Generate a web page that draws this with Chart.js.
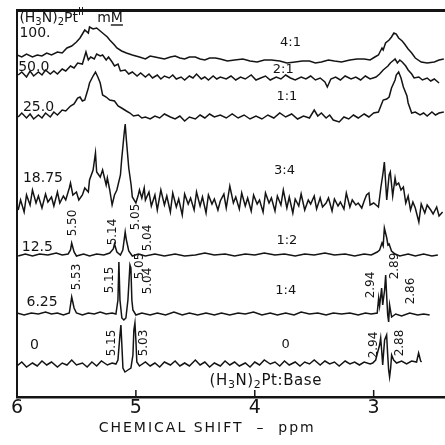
<!DOCTYPE html>
<html>
<head>
<meta charset="utf-8">
<script src="https://cdn.jsdelivr.net/npm/chart.js@4.4.1/dist/chart.umd.min.js"></script>
<style>
  html, body { margin: 0; padding: 0; background: #fff; }
  #wrap { width: 445px; height: 445px; }
</style>
</head>
<body>
<div id="wrap"><canvas id="nmr" width="445" height="445"></canvas></div>
<script>
// stacked 1H spectra, [ppm, signal]
const sig100 = [[6.00,342],[5.96,340],[5.92,343],[5.87,340],[5.83,342],[5.79,341],[5.75,344],[5.71,342],[5.66,345],[5.62,344],[5.58,349],[5.54,351],[5.50,355],[5.47,359],[5.45,363],[5.43,367],[5.40,364],[5.39,370],[5.36,368],[5.33,369],[5.30,366],[5.28,364],[5.24,360],[5.22,357],[5.18,352],[5.16,349],[5.12,346],[5.08,344],[5.03,342],[4.97,340],[4.92,338],[4.88,341],[4.84,340],[4.80,339],[4.76,338],[4.71,340],[4.67,341],[4.63,339],[4.59,338],[4.55,340],[4.50,340],[4.46,338],[4.42,337],[4.38,339],[4.33,339],[4.29,338],[4.23,336],[4.17,337],[4.10,338],[4.04,336],[3.98,335],[3.92,337],[3.86,337],[3.79,336],[3.73,334],[3.66,335],[3.60,336],[3.54,336],[3.49,334],[3.44,335],[3.38,337],[3.33,336],[3.27,335],[3.20,337],[3.14,338],[3.08,338],[3.03,337],[2.99,340],[2.96,342],[2.93,349],[2.92,347],[2.90,354],[2.87,357],[2.85,360],[2.83,364],[2.81,363],[2.79,359],[2.76,356],[2.74,353],[2.71,348],[2.68,344],[2.65,339],[2.60,335],[2.55,334],[2.49,335],[2.45,337],[2.41,338]];

const sig50 = [[5.99,322],[5.96,325],[5.92,320],[5.89,326],[5.86,321],[5.82,325],[5.79,322],[5.76,327],[5.72,323],[5.69,326],[5.66,323],[5.62,328],[5.59,326],[5.55,331],[5.52,329],[5.49,334],[5.45,333],[5.42,345],[5.40,337],[5.38,340],[5.35,338],[5.33,343],[5.30,341],[5.28,342],[5.25,337],[5.23,340],[5.20,335],[5.18,331],[5.15,333],[5.13,326],[5.09,327],[5.06,323],[5.03,325],[4.99,321],[4.96,324],[4.92,320],[4.89,323],[4.86,319],[4.82,322],[4.79,318],[4.76,321],[4.72,319],[4.69,322],[4.66,318],[4.62,320],[4.59,317],[4.55,321],[4.52,319],[4.49,323],[4.45,318],[4.42,320],[4.39,317],[4.35,321],[4.32,318],[4.29,320],[4.24,318],[4.20,321],[4.16,317],[4.12,320],[4.08,318],[4.03,322],[3.99,317],[3.95,319],[3.91,321],[3.87,317],[3.82,320],[3.78,318],[3.74,322],[3.70,319],[3.66,317],[3.61,320],[3.57,318],[3.53,321],[3.49,317],[3.45,319],[3.41,315],[3.39,310],[3.36,318],[3.32,320],[3.28,317],[3.24,321],[3.19,318],[3.15,320],[3.11,317],[3.07,321],[3.03,318],[2.98,320],[2.95,323],[2.92,327],[2.88,331],[2.86,334],[2.83,337],[2.82,338],[2.80,334],[2.78,337],[2.76,335],[2.73,331],[2.71,327],[2.68,323],[2.66,319],[2.62,320],[2.59,317],[2.55,319],[2.52,316],[2.49,318],[2.45,314]];

const sig25 = [[5.99,280],[5.96,284],[5.92,279],[5.89,283],[5.86,278],[5.82,282],[5.79,279],[5.76,284],[5.72,280],[5.69,285],[5.66,282],[5.62,287],[5.59,286],[5.55,291],[5.52,293],[5.49,299],[5.47,300],[5.45,296],[5.43,297],[5.40,309],[5.39,314],[5.36,321],[5.34,325],[5.32,320],[5.30,314],[5.28,302],[5.25,300],[5.22,297],[5.18,296],[5.15,291],[5.12,289],[5.08,286],[5.05,284],[5.02,281],[4.98,282],[4.95,279],[4.92,280],[4.88,278],[4.84,281],[4.80,279],[4.76,283],[4.71,280],[4.67,278],[4.63,281],[4.59,276],[4.55,280],[4.50,278],[4.46,282],[4.42,279],[4.38,283],[4.34,280],[4.29,282],[4.24,279],[4.19,283],[4.14,279],[4.09,282],[4.04,278],[3.99,281],[3.94,278],[3.89,282],[3.84,279],[3.79,284],[3.74,280],[3.69,283],[3.64,278],[3.59,281],[3.54,279],[3.50,287],[3.47,281],[3.44,284],[3.40,279],[3.37,282],[3.34,277],[3.29,275],[3.25,280],[3.21,278],[3.17,282],[3.13,279],[3.08,283],[3.04,280],[3.00,284],[2.96,285],[2.93,294],[2.92,297],[2.89,298],[2.87,300],[2.85,309],[2.82,317],[2.81,322],[2.79,325],[2.77,319],[2.75,310],[2.72,301],[2.71,294],[2.68,284],[2.65,285],[2.61,282],[2.58,284],[2.55,281],[2.51,285],[2.48,282],[2.45,284],[2.41,285]];

const sig1875 = [[5.99,187],[5.97,197],[5.94,185],[5.92,202],[5.89,192],[5.87,207],[5.84,194],[5.82,201],[5.79,189],[5.76,203],[5.74,195],[5.71,200],[5.69,191],[5.66,205],[5.64,194],[5.61,201],[5.59,197],[5.56,209],[5.55,214],[5.53,202],[5.50,205],[5.48,197],[5.45,202],[5.43,209],[5.40,205],[5.39,217],[5.36,227],[5.34,244],[5.33,225],[5.30,220],[5.28,227],[5.25,212],[5.24,219],[5.22,207],[5.20,192],[5.18,202],[5.16,207],[5.13,222],[5.12,237],[5.10,262],[5.09,273],[5.08,257],[5.06,229],[5.04,212],[5.03,200],[5.00,194],[4.98,202],[4.97,207],[4.95,199],[4.93,209],[4.92,197],[4.89,205],[4.87,191],[4.84,202],[4.82,187],[4.79,207],[4.76,192],[4.74,201],[4.71,185],[4.69,204],[4.66,190],[4.64,198],[4.61,182],[4.59,203],[4.56,193],[4.54,199],[4.51,187],[4.49,205],[4.46,191],[4.44,200],[4.41,184],[4.39,202],[4.36,193],[4.34,198],[4.31,187],[4.29,196],[4.26,203],[4.24,189],[4.21,211],[4.18,194],[4.16,200],[4.13,188],[4.11,204],[4.08,191],[4.06,199],[4.03,186],[4.01,202],[3.98,193],[3.96,197],[3.93,185],[3.91,204],[3.88,194],[3.86,199],[3.83,186],[3.81,201],[3.78,192],[3.76,207],[3.73,189],[3.71,200],[3.68,184],[3.66,198],[3.63,191],[3.61,203],[3.58,187],[3.55,197],[3.53,193],[3.50,201],[3.48,188],[3.45,199],[3.43,190],[3.40,194],[3.38,199],[3.35,186],[3.33,198],[3.30,191],[3.28,195],[3.25,188],[3.23,204],[3.20,190],[3.18,197],[3.15,192],[3.13,194],[3.10,189],[3.08,196],[3.06,202],[3.04,204],[3.03,192],[3.00,194],[2.97,191],[2.96,190],[2.94,209],[2.92,225],[2.91,235],[2.89,197],[2.87,222],[2.86,225],[2.84,201],[2.82,219],[2.81,212],[2.79,214],[2.77,207],[2.75,210],[2.73,194],[2.71,201],[2.69,187],[2.67,195],[2.65,189],[2.62,175],[2.60,193],[2.57,184],[2.55,192],[2.52,187],[2.50,183],[2.47,190],[2.45,181],[2.42,185]];

const sig125 = [[5.99,141],[5.93,143],[5.87,141],[5.81,143],[5.74,142],[5.67,144],[5.62,142],[5.57,143],[5.55,147],[5.54,154],[5.52,145],[5.50,141],[5.44,143],[5.39,141],[5.33,143],[5.27,142],[5.22,144],[5.19,148],[5.18,153],[5.16,145],[5.13,142],[5.11,147],[5.09,165],[5.08,157],[5.06,146],[5.03,141],[4.98,143],[4.92,141],[4.84,143],[4.76,141],[4.67,143],[4.59,141],[4.50,142],[4.42,144],[4.34,142],[4.25,143],[4.17,141],[4.08,143],[4.00,142],[3.92,144],[3.83,142],[3.75,143],[3.66,141],[3.58,143],[3.50,142],[3.41,144],[3.33,142],[3.24,143],[3.16,141],[3.08,143],[3.02,142],[2.97,145],[2.95,147],[2.93,154],[2.92,151],[2.91,169],[2.89,159],[2.88,152],[2.87,153],[2.85,146],[2.82,143],[2.78,141],[2.71,143],[2.65,141],[2.58,143],[2.51,141],[2.46,142]];

const sig625 = [[6.00,84],[5.94,82],[5.88,84],[5.82,83],[5.76,85],[5.71,83],[5.66,84],[5.61,82],[5.56,84],[5.55,92],[5.54,100],[5.52,89],[5.50,84],[5.45,82],[5.40,84],[5.35,83],[5.30,85],[5.25,83],[5.20,84],[5.168,83],[5.151,97],[5.143,135],[5.134,97],[5.118,79],[5.101,77],[5.084,79],[5.067,97],[5.050,132],[5.042,129],[5.034,97],[5.025,87],[5.00,82],[4.95,84],[4.88,82],[4.82,84],[4.75,82],[4.68,85],[4.61,82],[4.55,84],[4.48,82],[4.41,84],[4.34,82],[4.28,84],[4.21,82],[4.14,84],[4.08,83],[4.01,85],[3.94,82],[3.87,84],[3.81,82],[3.74,84],[3.67,82],[3.61,85],[3.54,83],[3.47,84],[3.40,82],[3.34,84],[3.27,83],[3.20,84],[3.13,82],[3.07,84],[3.02,83],[2.97,84],[2.958,99],[2.950,91],[2.933,109],[2.924,92],[2.908,107],[2.899,122],[2.891,102],[2.882,82],[2.874,75],[2.866,92],[2.849,80],[2.815,83],[2.765,81],[2.697,84],[2.630,82],[2.580,83],[2.529,82]];

const sig0 = [[6.00,31],[5.96,35],[5.92,30],[5.87,34],[5.83,31],[5.79,36],[5.75,32],[5.71,35],[5.66,30],[5.62,34],[5.58,32],[5.54,37],[5.50,32],[5.45,34],[5.41,30],[5.37,35],[5.33,31],[5.29,36],[5.24,32],[5.20,34],[5.168,33],[5.151,37],[5.134,62],[5.126,72],[5.118,52],[5.109,29],[5.092,25],[5.067,27],[5.042,29],[5.025,42],[5.017,67],[5.008,74],[5.000,57],[4.992,35],[4.97,31],[4.92,35],[4.88,31],[4.84,34],[4.80,30],[4.76,35],[4.71,32],[4.67,36],[4.63,31],[4.59,34],[4.55,31],[4.50,37],[4.46,32],[4.42,35],[4.38,30],[4.34,34],[4.29,31],[4.25,36],[4.21,32],[4.17,35],[4.13,31],[4.08,34],[4.04,30],[4.00,35],[3.96,32],[3.92,37],[3.87,33],[3.83,35],[3.79,31],[3.75,36],[3.71,32],[3.66,35],[3.62,31],[3.58,35],[3.54,33],[3.50,37],[3.45,32],[3.41,36],[3.37,33],[3.33,35],[3.29,31],[3.24,36],[3.20,33],[3.16,35],[3.12,32],[3.08,35],[3.03,33],[3.008,34],[2.983,37],[2.966,45],[2.950,52],[2.941,59],[2.933,47],[2.924,32],[2.916,45],[2.908,57],[2.891,62],[2.882,42],[2.874,27],[2.866,20],[2.857,29],[2.849,42],[2.832,37],[2.807,34],[2.765,36],[2.723,33],[2.681,36],[2.639,35],[2.622,44],[2.605,36],[2.597,35]];

const traces = [sig100, sig50, sig25, sig1875, sig125, sig625, sig0];
const concLabels = ["100.", "50.0", "25.0", "18.75", "12.5", "6.25", "0"];
const ratioLabels = ["4:1", "2:1", "1:1", "3:4", "1:2", "1:4", "0"];
const peakLabels = ["5.50", "5.14", "5.05", "5.04", "5.53", "5.15", "5.05", "5.04", "5.15", "5.03",
                    "2.94", "2.89", "2.86", "2.94", "2.88"];
const xTicks = [6, 5, 4, 3];
const xTitle = "CHEMICAL SHIFT  –  ppm";

// where the texts sit, in [ppm, signal]
const concAt = [[5.98,364],[5.99,330],[5.95,290],[5.95,219],[5.96,150],[5.92,95],[5.89,52]];
const ratioAt = [[3.70,354],[3.76,327],[3.73,300],[3.75,226],[3.73,156],[3.74,106],[3.74,52]];
const peakAt = [[5.53,174],[5.19,165],[5.00,180],[4.90,159],[5.50,120],[5.22,117],[4.97,131],[4.90,116],
                [5.20,54],[4.93,54],[3.02,112],[2.82,131],[2.69,106],[3.00,52],[2.78,54]];

const FONT = '"DejaVu Sans", sans-serif';
const INK = "#141414";

function drawRich(ctx, segs, x, y, size) {
  ctx.textAlign = "left";
  segs.forEach(([t, kind]) => {
    const small = kind === "sub" || kind === "sup";
    const s = small ? Math.round(size * 0.72) : size;
    const dy = kind === "sub" ? size * 0.3 : kind === "sup" ? -size * 0.38 : 0;
    ctx.font = s + "px " + FONT;
    ctx.fillText(t, x, y + dy);
    const w = ctx.measureText(t).width;
    if (kind === "u") ctx.fillRect(x, y + size * 0.45, w, 1.4);
    x += w;
  });
}

const labelPlugin = {
  id: "nmrLabels",
  afterDatasetsDraw(chart) {
    const ctx = chart.ctx;
    const px = (p) => chart.scales.x.getPixelForValue(p);
    const py = (v) => chart.scales.y.getPixelForValue(v);
    ctx.save();
    ctx.fillStyle = INK;
    ctx.strokeStyle = INK;

    // short inward tick marks on the ppm axis
    ctx.lineWidth = 1.5;
    xTicks.slice(1).forEach((v) => {
      ctx.beginPath();
      ctx.moveTo(px(v), py(0));
      ctx.lineTo(px(v), py(7));
      ctx.stroke();
    });

    ctx.textBaseline = "middle";
    ctx.font = "14px " + FONT;
    ctx.textAlign = "left";
    concLabels.forEach((t, i) => ctx.fillText(t, px(concAt[i][0]), py(concAt[i][1])));

    ctx.font = "13px " + FONT;
    ctx.textAlign = "center";
    ratioLabels.forEach((t, i) => ctx.fillText(t, px(ratioAt[i][0]), py(ratioAt[i][1])));

    ctx.font = "12px " + FONT;
    peakLabels.forEach((t, i) => {
      ctx.save();
      ctx.translate(px(peakAt[i][0]), py(peakAt[i][1]));
      ctx.rotate(-Math.PI / 2);
      ctx.fillText(t, 0, 0);
      ctx.restore();
    });

    drawRich(ctx, [["(H", ""], ["3", "sub"], ["N)", ""], ["2", "sub"], ["Pt", ""], ["II", "sup"], ["   m", ""], ["M", "u"]],
      px(5.98), py(379), 14);
    ctx.letterSpacing = "0.6px";
    drawRich(ctx, [["(H", ""], ["3", "sub"], ["N)", ""], ["2", "sub"], ["Pt", ""], [":", ""], ["Base", ""]],
      px(4.38), py(16), 15);

    // axis title, set a little left of centre as in the scan
    ctx.letterSpacing = "2px";
    ctx.font = "14px " + FONT;
    ctx.textAlign = "center";
    ctx.fillText(xTitle, px(4.40), py(-31));
    ctx.restore();
  }
};

new Chart(document.getElementById("nmr"), {
  type: "line",
  data: {
    datasets: traces.map((t, i) => ({
      label: concLabels[i] + " mM",
      data: t.map(([x, y]) => ({ x, y })),
      borderColor: INK,
      borderWidth: 1.5,
      pointRadius: 0,
      tension: 0,
      fill: false
    }))
  },
  options: {
    responsive: false,
    animation: false,
    devicePixelRatio: 1,
    layout: { padding: 0 },
    plugins: { legend: { display: false }, tooltip: { enabled: false } },
    scales: {
      x: {
        type: "linear",
        position: "bottom",
        reverse: true,
        min: 2.4,
        max: 6,
        afterBuildTicks: (sc) => { sc.ticks = xTicks.map((v) => ({ value: v })); },
        afterFit: (sc) => { sc.height = 48; },
        ticks: { color: INK, padding: 0, font: { family: FONT, size: 19 }, callback: (v) => String(v) },
        grid: { display: false, drawTicks: false },
        border: { display: true, color: INK, width: 2.5 }
      },
      top: {
        type: "linear",
        axis: "x",
        position: "top",
        reverse: true,
        min: 2.4,
        max: 6,
        afterFit: (sc) => { sc.height = 10; },
        ticks: { display: false },
        grid: { display: false, drawTicks: false },
        border: { display: true, color: INK, width: 3 }
      },
      y: {
        type: "linear",
        min: 0,
        max: 387,
        afterFit: (sc) => { sc.width = 17; },
        ticks: { display: false },
        grid: { display: false, drawTicks: false },
        border: { display: true, color: INK, width: 2 }
      }
    }
  },
  plugins: [labelPlugin]
});
</script>
</body>
</html>
